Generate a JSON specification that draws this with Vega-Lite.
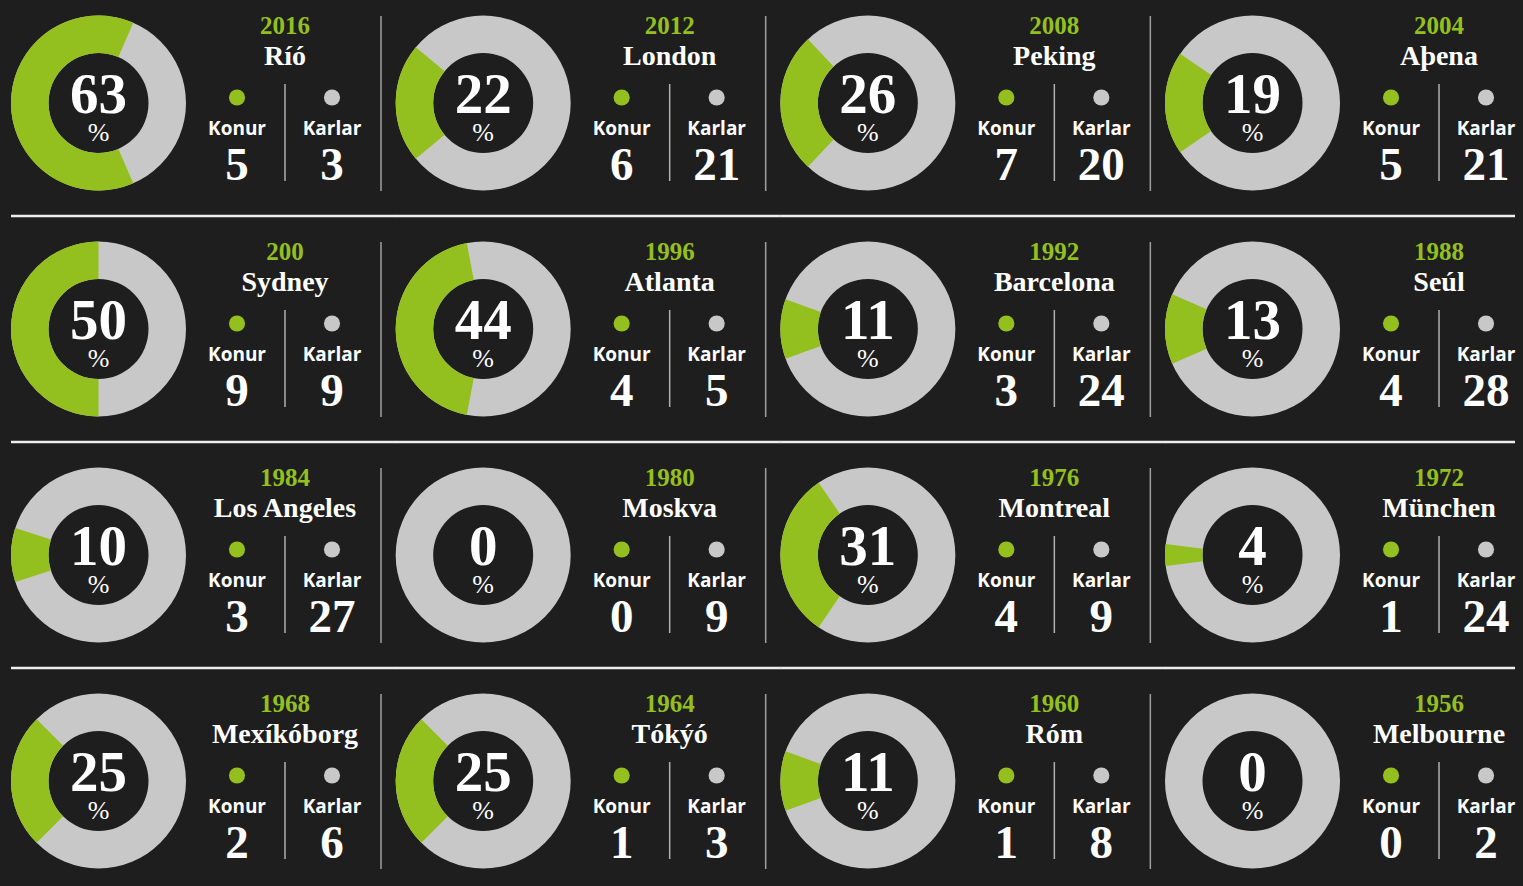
{
  "$schema": "https://vega.github.io/schema/vega-lite/v6.json",
  "background": "#1e1e1e",
  "padding": 0,
  "bounds": "flush",
  "data": {
    "values": [
      {"order": 1, "year": "2016", "city": "Ríó", "konur": 5, "karlar": 3, "pct": 63},
      {"order": 2, "year": "2012", "city": "London", "konur": 6, "karlar": 21, "pct": 22},
      {"order": 3, "year": "2008", "city": "Peking", "konur": 7, "karlar": 20, "pct": 26},
      {"order": 4, "year": "2004", "city": "Aþena", "konur": 5, "karlar": 21, "pct": 19},
      {"order": 5, "year": "200", "city": "Sydney", "konur": 9, "karlar": 9, "pct": 50},
      {"order": 6, "year": "1996", "city": "Atlanta", "konur": 4, "karlar": 5, "pct": 44},
      {"order": 7, "year": "1992", "city": "Barcelona", "konur": 3, "karlar": 24, "pct": 11},
      {"order": 8, "year": "1988", "city": "Seúl", "konur": 4, "karlar": 28, "pct": 13},
      {"order": 9, "year": "1984", "city": "Los Angeles", "konur": 3, "karlar": 27, "pct": 10},
      {"order": 10, "year": "1980", "city": "Moskva", "konur": 0, "karlar": 9, "pct": 0},
      {"order": 11, "year": "1976", "city": "Montreal", "konur": 4, "karlar": 9, "pct": 31},
      {"order": 12, "year": "1972", "city": "München", "konur": 1, "karlar": 24, "pct": 4},
      {"order": 13, "year": "1968", "city": "Mexíkóborg", "konur": 2, "karlar": 6, "pct": 25},
      {"order": 14, "year": "1964", "city": "Tókýó", "konur": 1, "karlar": 3, "pct": 25},
      {"order": 15, "year": "1960", "city": "Róm", "konur": 1, "karlar": 8, "pct": 11},
      {"order": 16, "year": "1956", "city": "Melbourne", "konur": 0, "karlar": 2, "pct": 0}
    ]
  },
  "facet": {"field": "city", "type": "nominal", "title": null, "header": {"labels": false, "title": null, "labelExpr": "''", "labelPadding": 0, "labelFontSize": 1}, "sort": {"field": "order", "op": "min", "order": "ascending"}},
  "columns": 4,
  "spacing": {"row": 18, "column": 15.67},
  "spec": {
    "width": 369,
    "height": 208,
    "resolve": {"scale": {"theta": "independent"}},
    "layer": [
      {
        "mark": {"type": "arc", "innerRadius": 50, "outerRadius": 87.5, "color": "#c8c8c8"},
        "encoding": {
          "x": {"datum": 1, "type": "quantitative", "axis": null, "scale": {"domain": [0, 1, 2, 3, 4, 5, 6, 7], "range": [11, 98.5, 237, 285, 332, 361, 381, 396]}},
          "y": {"datum": 5, "type": "quantitative", "axis": null, "scale": {"domain": [0, 1, 2, 3, 4, 5, 6, 7, 8, 9, 10, 11, 12], "range": [15, 33, 63.5, 83, 96.5, 102, 112, 133.5, 139.5, 178.5, 180, 190, 215]}}
        }
      },
      {
        "mark": {"type": "arc", "innerRadius": 50, "outerRadius": 87.5, "color": "#93c01f"},
        "encoding": {
          "x": {"datum": 1, "type": "quantitative", "axis": null},
          "y": {"datum": 5, "type": "quantitative", "axis": null},
          "theta": {"field": "pct", "type": "quantitative", "stack": null, "scale": {"domain": [0, 100], "range": [4.712389, 7.853982]}},
          "theta2": {"datum": 0}
        }
      },
      {
        "mark": {"type": "arc", "innerRadius": 50, "outerRadius": 87.5, "color": "#93c01f"},
        "encoding": {
          "x": {"datum": 1, "type": "quantitative", "axis": null},
          "y": {"datum": 5, "type": "quantitative", "axis": null},
          "theta": {"field": "pct", "type": "quantitative", "stack": null, "scale": {"domain": [0, 100], "range": [4.712389, 1.570796]}},
          "theta2": {"datum": 0}
        }
      },
      {
        "mark": {"type": "text", "font": "Liberation Serif", "fontWeight": "bold", "fontSize": 57, "color": "#ffffff", "align": "center", "baseline": "alphabetic"},
        "encoding": {
          "x": {"datum": 1, "type": "quantitative", "axis": null},
          "y": {"datum": 6, "type": "quantitative", "axis": null},
          "text": {"field": "pct"}
        }
      },
      {
        "mark": {"type": "text", "font": "Liberation Serif", "fontSize": 26, "color": "#ffffff", "align": "center", "baseline": "alphabetic"},
        "encoding": {
          "x": {"datum": 1, "type": "quantitative", "axis": null},
          "y": {"datum": 8, "type": "quantitative", "axis": null},
          "text": {"value": "%"}
        }
      },
      {
        "mark": {"type": "text", "font": "Liberation Serif", "fontWeight": "bold", "fontSize": 25, "color": "#93c01f", "align": "center", "baseline": "alphabetic"},
        "encoding": {
          "x": {"datum": 3, "type": "quantitative", "axis": null},
          "y": {"datum": 1, "type": "quantitative", "axis": null},
          "text": {"field": "year"}
        }
      },
      {
        "mark": {"type": "text", "font": "Liberation Serif", "fontWeight": "bold", "fontSize": 28, "color": "#ffffff", "align": "center", "baseline": "alphabetic"},
        "encoding": {
          "x": {"datum": 3, "type": "quantitative", "axis": null},
          "y": {"datum": 2, "type": "quantitative", "axis": null},
          "text": {"field": "city"}
        }
      },
      {
        "mark": {"type": "circle", "size": 260, "opacity": 1, "color": "#93c01f"},
        "encoding": {
          "x": {"datum": 2, "type": "quantitative", "axis": null},
          "y": {"datum": 4, "type": "quantitative", "axis": null}
        }
      },
      {
        "mark": {"type": "circle", "size": 260, "opacity": 1, "color": "#c8c8c8"},
        "encoding": {
          "x": {"datum": 4, "type": "quantitative", "axis": null},
          "y": {"datum": 4, "type": "quantitative", "axis": null}
        }
      },
      {
        "mark": {"type": "text", "font": "Open Sans", "fontWeight": "bold", "fontSize": 19, "color": "#ffffff", "align": "center", "baseline": "alphabetic"},
        "encoding": {
          "x": {"datum": 2, "type": "quantitative", "axis": null},
          "y": {"datum": 7, "type": "quantitative", "axis": null},
          "text": {"value": "Konur"}
        }
      },
      {
        "mark": {"type": "text", "font": "Open Sans", "fontWeight": "bold", "fontSize": 19, "color": "#ffffff", "align": "center", "baseline": "alphabetic"},
        "encoding": {
          "x": {"datum": 4, "type": "quantitative", "axis": null},
          "y": {"datum": 7, "type": "quantitative", "axis": null},
          "text": {"value": "Karlar"}
        }
      },
      {
        "mark": {"type": "text", "font": "Liberation Serif", "fontWeight": "bold", "fontSize": 47, "color": "#ffffff", "align": "center", "baseline": "alphabetic"},
        "encoding": {
          "x": {"datum": 2, "type": "quantitative", "axis": null},
          "y": {"datum": 9, "type": "quantitative", "axis": null},
          "text": {"field": "konur"}
        }
      },
      {
        "mark": {"type": "text", "font": "Liberation Serif", "fontWeight": "bold", "fontSize": 47, "color": "#ffffff", "align": "center", "baseline": "alphabetic"},
        "encoding": {
          "x": {"datum": 4, "type": "quantitative", "axis": null},
          "y": {"datum": 9, "type": "quantitative", "axis": null},
          "text": {"field": "karlar"}
        }
      },
      {
        "mark": {"type": "rule", "color": "#b0b0b0", "strokeWidth": 1.5},
        "encoding": {
          "x": {"datum": 3, "type": "quantitative", "axis": null},
          "y": {"datum": 3, "type": "quantitative", "axis": null},
          "y2": {"datum": 10}
        }
      },
      {
        "transform": [{"filter": "datum.order % 4 != 0"}],
        "mark": {"type": "rule", "color": "#a0a0a0", "strokeWidth": 1.5},
        "encoding": {
          "x": {"datum": 6, "type": "quantitative", "axis": null},
          "y": {"datum": 0, "type": "quantitative", "axis": null},
          "y2": {"datum": 11}
        }
      },
      {
        "transform": [{"filter": "datum.order <= 12 && datum.order % 4 != 0"}],
        "mark": {"type": "rule", "color": "#eeeeee", "strokeWidth": 2.5},
        "encoding": {
          "x": {"datum": 0, "type": "quantitative", "axis": null},
          "x2": {"datum": 7},
          "y": {"datum": 12, "type": "quantitative", "axis": null}
        }
      },
      {
        "transform": [{"filter": "datum.order <= 12 && datum.order % 4 == 0"}],
        "mark": {"type": "rule", "color": "#eeeeee", "strokeWidth": 2.5},
        "encoding": {
          "x": {"datum": 0, "type": "quantitative", "axis": null},
          "x2": {"datum": 5},
          "y": {"datum": 12, "type": "quantitative", "axis": null}
        }
      }
    ]
  },
  "config": {
    "view": {"stroke": null},
    "header": {"labels": false, "title": null, "labelExpr": "''", "labelPadding": 0, "labelFontSize": 1},
    "headerFacet": {"labels": false, "title": null, "labelExpr": "''", "labelPadding": 0, "labelFontSize": 1}
  }
}
